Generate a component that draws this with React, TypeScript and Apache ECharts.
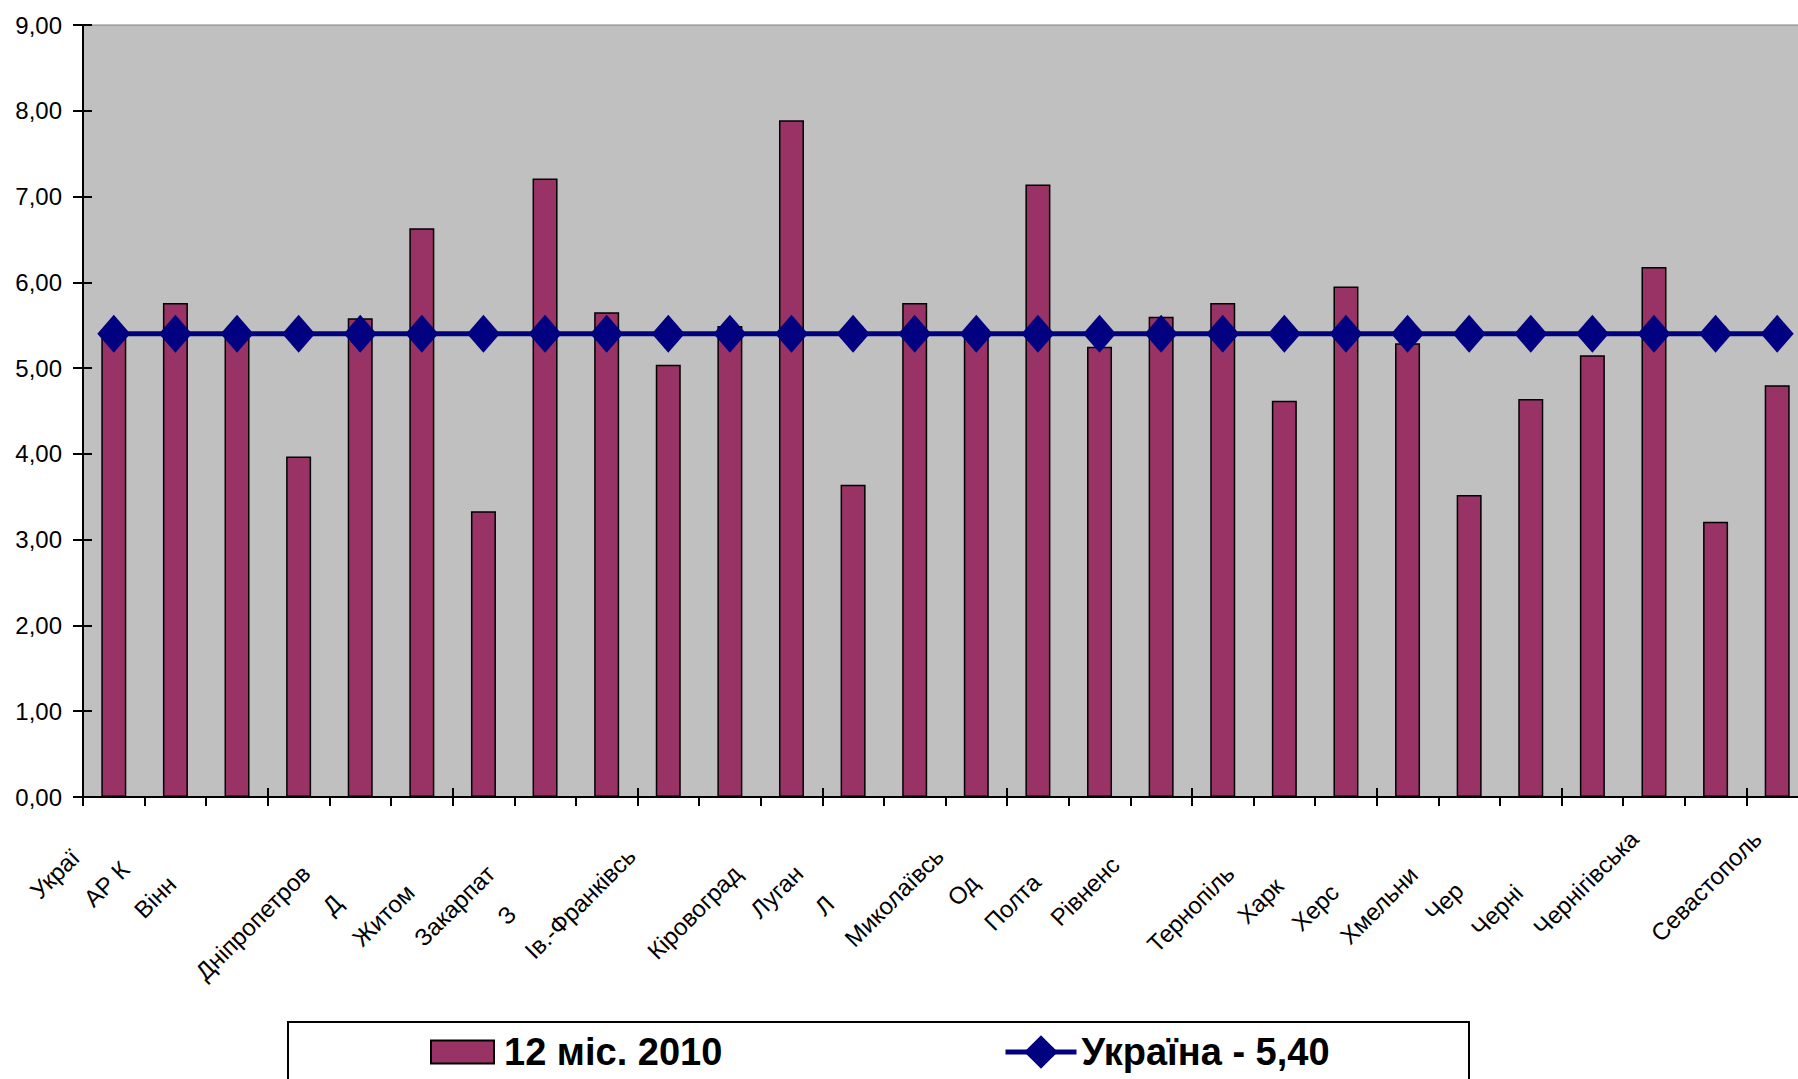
import React, { useEffect, useRef } from "react";
import * as echarts from "echarts";

// ---------- data ----------
const categories: string[] = [
  "Україна", "АР Крим", "Вінницька", "Волинська", "Дніпропетровська", "Донецька",
  "Житомирська", "Закарпатська", "Запорізька", "Ів.-Франківська", "Київська",
  "Кіровоградська", "Луганська", "Львівська", "Миколаївська", "Одеська", "Полтавська",
  "Рівненська", "Сумська", "Тернопільська", "Харківська", "Херсонська", "Хмельницька",
  "Черкаська", "Чернівецька", "Чернігівська", "м. Київ", "Севастополь",
];

// labels as they are visible in the picture (clipped)
const visibleLabels: string[] = [
  "Украї", "АР К", "Вінн", "", "Дніпропетров", "Д",
  "Житом", "Закарпат", "З", "Ів.-Франківсь", "",
  "Кіровоград", "Луган", "Л", "Миколаївсь", "Од", "Полта",
  "Рівненс", "", "Тернопіль", "Харк", "Херс", "Хмельни",
  "Чер", "Черні", "Чернігівська", "", "Севастополь",
];

const values12m2010: number[] = [
  5.40, 5.76, 5.41, 3.97, 5.58, 6.63, 3.33, 7.21, 5.65, 5.04,
  5.49, 7.89, 3.64, 5.76, 5.38, 7.14, 5.25, 5.60, 5.76, 4.62,
  5.95, 5.29, 3.52, 4.64, 5.15, 6.18, 3.21, 4.80,
];

const ukraineAvg: number[] = [
  5.40, 5.40, 5.40, 5.40, 5.40, 5.40, 5.40, 5.40, 5.40, 5.40,
  5.40, 5.40, 5.40, 5.40, 5.40, 5.40, 5.40, 5.40, 5.40, 5.40,
  5.40, 5.40, 5.40, 5.40, 5.40, 5.40, 5.40, 5.40,
];

const seriesNames: string[] = ["12 міс. 2010", "Україна - 5,40"];
const yTicks = { min: 0, max: 9, interval: 1 };

const FONT = '"Liberation Sans", Arial, sans-serif';
const XFS = 24;

export default function App() {
  const ref = useRef<HTMLDivElement>(null);

  useEffect(() => {
    if (!ref.current) return;
    const chart = echarts.init(ref.current, undefined, { renderer: "svg" });

    const canvas = document.createElement("canvas");
    const ctx = canvas.getContext("2d")!;
    ctx.font = `${XFS}px "Liberation Sans"`;
    const extra = 28;
    const rich: Record<string, any> = {
      v: { fontSize: XFS, fontFamily: FONT, color: "#000" },
    };
    categories.forEach((c, i) => {
      const v = visibleLabels[i];
      const tail = v && c.startsWith(v) ? c.slice(v.length) : "";
      const w = tail ? ctx.measureText(tail).width : 0;
      rich["s" + i] = { fontSize: XFS, fontFamily: FONT, width: w + extra };
    });

    const option: any = {
      animation: false,
      backgroundColor: "#ffffff",
      textStyle: { fontFamily: FONT },
      grid: {
        left: 83, top: 25, width: 1725, height: 772,
        show: true, backgroundColor: "#C0C0C0", borderColor: "#808080", borderWidth: 1,
        containLabel: false,
      },
      xAxis: [
        {
          type: "category", data: categories, position: "bottom", boundaryGap: true,
          axisLine: { lineStyle: { color: "#000", width: 2 } },
          axisTick: { show: true, length: 9, lineStyle: { color: "#000", width: 2 } },
          axisLabel: {
            interval: 0, rotate: 45, margin: 18,
            formatter: (_v: string, i: number) =>
              visibleLabels[i] ? `{v|${visibleLabels[i]}}{s${i}| }` : "",
            rich,
          },
          splitLine: { show: false },
        },
        {
          type: "category", data: categories, position: "bottom", boundaryGap: true,
          axisLine: { show: false },
          axisTick: { show: true, inside: true, length: 9, lineStyle: { color: "#000", width: 2 } },
          axisLabel: { show: false },
          splitLine: { show: false },
        },
      ],
      yAxis: [
        {
          type: "value", position: "left", min: yTicks.min, max: yTicks.max, interval: yTicks.interval,
          axisLine: { show: true, lineStyle: { color: "#000", width: 2 } },
          axisTick: { show: true, length: 10, lineStyle: { color: "#000", width: 2 } },
          axisLabel: {
            margin: 21, fontSize: 24, color: "#000", fontFamily: FONT,
            formatter: (v: number) => v.toFixed(2).replace(".", ","),
          },
          splitLine: { show: false },
        },
        {
          type: "value", position: "left", min: yTicks.min, max: yTicks.max, interval: yTicks.interval,
          axisLine: { show: false },
          axisTick: { show: true, inside: true, length: 9, lineStyle: { color: "#000", width: 2 } },
          axisLabel: { show: false },
          splitLine: { show: false },
        },
      ],
      legend: [
        {
          data: [{ name: seriesNames[0], icon: "rect" }], left: 430, top: 1033, padding: 0,
          itemWidth: 63, itemHeight: 23, selectedMode: false,
          textStyle: { fontSize: 38, fontWeight: "bold", color: "#000", fontFamily: FONT, padding: [0, 0, 0, 5] },
        },
        {
          data: [{ name: seriesNames[1] }], left: 1003, top: 1033, padding: 0,
          itemWidth: 71, itemHeight: 42, selectedMode: false,
          lineStyle: { width: 5, color: "#000080" },
          textStyle: { fontSize: 38, fontWeight: "bold", color: "#000", fontFamily: FONT, padding: [0, 0, 0, 0] },
        },
      ],
      graphic: [
        {
          type: "rect", z: 0,
          shape: { x: 288, y: 1022, width: 1181, height: 100 },
          style: { fill: "#ffffff", stroke: "#000", lineWidth: 2 },
        },
      ],
      series: [
        {
          type: "bar", name: seriesNames[0], data: values12m2010,
          xAxisIndex: 0, yAxisIndex: 0, barWidth: 25, z: 2,
          itemStyle: { color: "#993366", borderColor: "#000", borderWidth: 1.5 },
        },
        {
          type: "line", name: seriesNames[1], data: ukraineAvg,
          xAxisIndex: 0, yAxisIndex: 0, z: 3,
          symbol: "diamond", symbolSize: [33, 38],
          lineStyle: { color: "#000080", width: 5 },
          itemStyle: { color: "#000080" },
        },
      ],
    };

    chart.setOption(option);
    return () => chart.dispose();
  }, []);

  return (
    <div
      ref={ref}
      style={{ position: "fixed", left: 0, top: 0, width: 1840, height: 1079, background: "#fff" }}
    />
  );
}
